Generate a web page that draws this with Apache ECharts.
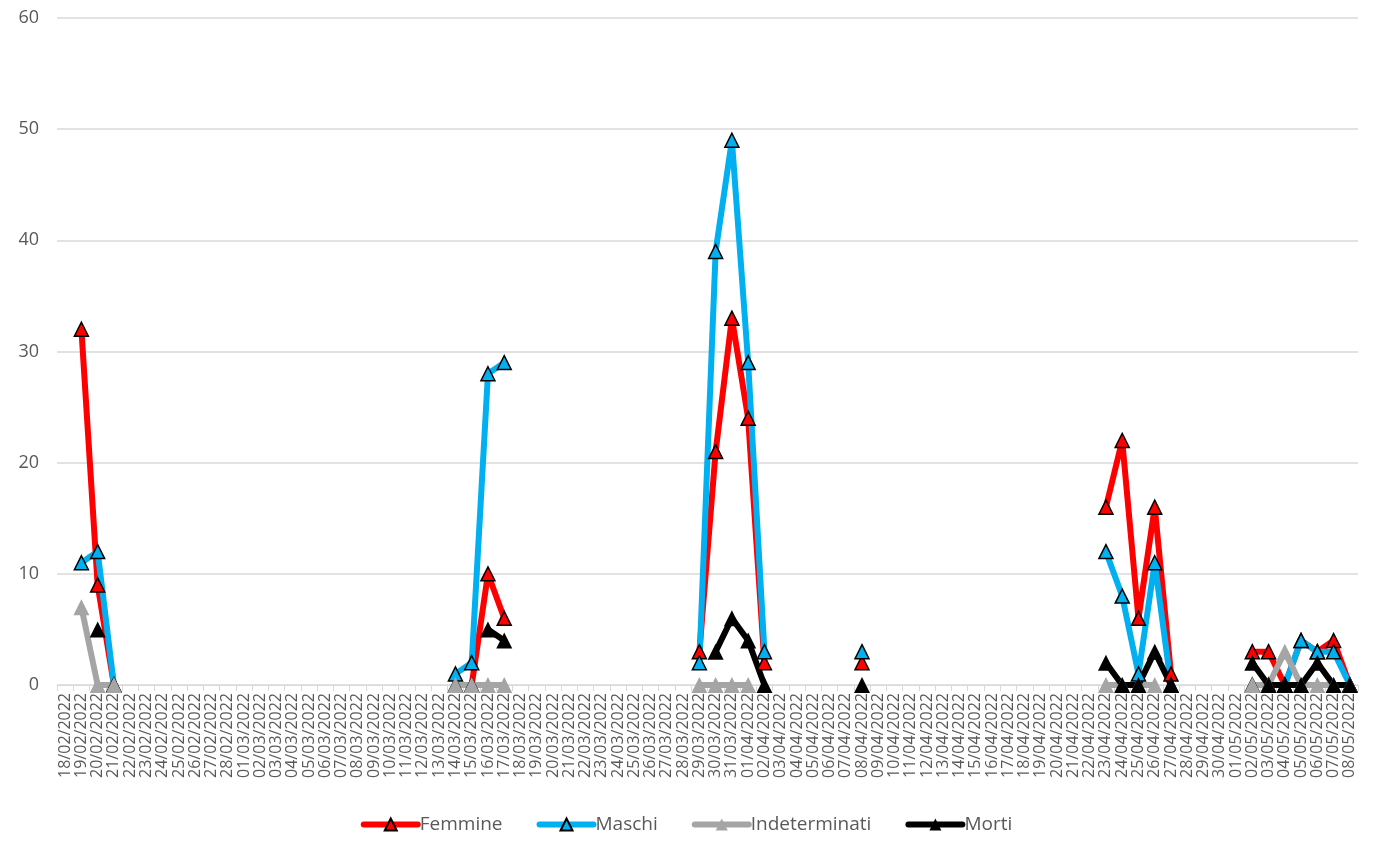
<!DOCTYPE html>
<html>
<head>
<meta charset="utf-8">
<script src="https://cdn.jsdelivr.net/npm/echarts@6/dist/echarts.min.js"></script>
<style>html,body{margin:0;padding:0;background:#fff;}#c{width:1373px;height:841px;}</style>
</head>
<body>
<div id="c"></div>
<script>
var categories = [
'18/02/2022','19/02/2022','20/02/2022','21/02/2022','22/02/2022','23/02/2022','24/02/2022','25/02/2022','26/02/2022','27/02/2022','28/02/2022',
'01/03/2022','02/03/2022','03/03/2022','04/03/2022','05/03/2022','06/03/2022','07/03/2022','08/03/2022','09/03/2022','10/03/2022',
'11/03/2022','12/03/2022','13/03/2022','14/03/2022','15/03/2022','16/03/2022','17/03/2022','18/03/2022','19/03/2022','20/03/2022',
'21/03/2022','22/03/2022','23/03/2022','24/03/2022','25/03/2022','26/03/2022','27/03/2022','28/03/2022','29/03/2022','30/03/2022','31/03/2022',
'01/04/2022','02/04/2022','03/04/2022','04/04/2022','05/04/2022','06/04/2022','07/04/2022','08/04/2022','09/04/2022','10/04/2022',
'11/04/2022','12/04/2022','13/04/2022','14/04/2022','15/04/2022','16/04/2022','17/04/2022','18/04/2022','19/04/2022','20/04/2022',
'21/04/2022','22/04/2022','23/04/2022','24/04/2022','25/04/2022','26/04/2022','27/04/2022','28/04/2022','29/04/2022','30/04/2022',
'01/05/2022','02/05/2022','03/05/2022','04/05/2022','05/05/2022','06/05/2022','07/05/2022','08/05/2022'
];
var yTicks = [0, 10, 20, 30, 40, 50, 60];

var femmine = [
['19/02/2022',32],['20/02/2022',9],['21/02/2022',0],
['14/03/2022',0],['15/03/2022',0],['16/03/2022',10],['17/03/2022',6],
['29/03/2022',3],['30/03/2022',21],['31/03/2022',33],['01/04/2022',24],['02/04/2022',2],
['08/04/2022',2],
['23/04/2022',16],['24/04/2022',22],['25/04/2022',6],['26/04/2022',16],['27/04/2022',1],
['02/05/2022',3],['03/05/2022',3],['04/05/2022',0],['05/05/2022',4],['06/05/2022',3],['07/05/2022',4],['08/05/2022',0]
];
var maschi = [
['19/02/2022',11],['20/02/2022',12],['21/02/2022',0],
['14/03/2022',1],['15/03/2022',2],['16/03/2022',28],['17/03/2022',29],
['29/03/2022',2],['30/03/2022',39],['31/03/2022',49],['01/04/2022',29],['02/04/2022',3],
['08/04/2022',3],
['23/04/2022',12],['24/04/2022',8],['25/04/2022',1],['26/04/2022',11],['27/04/2022',0],
['02/05/2022',0],['03/05/2022',0],['04/05/2022',0],['05/05/2022',4],['06/05/2022',3],['07/05/2022',3],['08/05/2022',0]
];
var indeterminati = [
['19/02/2022',7],['20/02/2022',0],['21/02/2022',0],
['14/03/2022',0],['15/03/2022',0],['16/03/2022',0],['17/03/2022',0],
['29/03/2022',0],['30/03/2022',0],['31/03/2022',0],['01/04/2022',0],
['23/04/2022',0],['24/04/2022',0],['25/04/2022',0],['26/04/2022',0],
['02/05/2022',0],['03/05/2022',0],['04/05/2022',3],['05/05/2022',0],['06/05/2022',0],['07/05/2022',0],['08/05/2022',0]
];
var morti = [
['20/02/2022',5],
['16/03/2022',5],['17/03/2022',4],
['30/03/2022',3],['31/03/2022',6],['01/04/2022',4],['02/04/2022',0],
['08/04/2022',0],
['23/04/2022',2],['24/04/2022',0],['25/04/2022',0],['26/04/2022',3],['27/04/2022',0],
['02/05/2022',2],['03/05/2022',0],['04/05/2022',0],['05/05/2022',0],['06/05/2022',2],['07/05/2022',0],['08/05/2022',0]
];

function fill(pairs) {
  var m = {};
  pairs.forEach(function (p) { m[p[0]] = p[1]; });
  return categories.map(function (c) { return (c in m) ? m[c] : null; });
}

var FONT = '"Open Sans", "Liberation Sans", sans-serif';
var chart = echarts.init(document.getElementById('c'), null, {renderer: 'canvas'});

function mk(name, pairs, color, bordered, size) {
  return {
    name: name,
    type: 'line',
    data: fill(pairs),
    connectNulls: false,
    showAllSymbol: true,
    symbol: 'triangle',
    symbolSize: size,
    lineStyle: {color: color, width: 6, cap: 'round', join: 'round'},
    itemStyle: {color: color, borderColor: bordered ? '#000' : color, borderWidth: bordered ? 1.5 : 0},
    emphasis: {disabled: true},
    animation: false
  };
}

chart.setOption({
  backgroundColor: '#ffffff',
  animation: false,
  grid: {left: 57, right: 15, top: 18, bottom: 156, containLabel: false},
  legend: {
    bottom: 2,
    left: 'center',
    itemWidth: 54,
    itemHeight: 15,
    itemGap: 34,
    lineStyle: {width: 6, cap: 'round'},
    textStyle: {fontFamily: FONT, fontSize: 19, color: '#595959', padding: [0, 0, 0, -3]},
    data: ['Femmine', 'Maschi', 'Indeterminati', 'Morti']
  },
  xAxis: {
    type: 'category',
    data: categories,
    boundaryGap: true,
    axisLine: {lineStyle: {color: '#d9d9d9', width: 1}},
    axisTick: {show: true, alignWithLabel: false, interval: 0, length: 6, lineStyle: {color: '#d9d9d9'}},
    axisLabel: {interval: 0, rotate: 90, fontFamily: FONT, fontSize: 16, color: '#595959', margin: 8},
    splitLine: {show: false}
  },
  yAxis: {
    type: 'value',
    min: yTicks[0],
    max: yTicks[yTicks.length - 1],
    interval: 10,
    axisLine: {show: false},
    axisTick: {show: false},
    axisLabel: {fontFamily: FONT, fontSize: 18, color: '#595959', margin: 18},
    splitLine: {lineStyle: {color: '#d9d9d9', width: 1.5}}
  },
  series: [
    mk('Femmine', femmine, '#ff0000', true, 14),
    mk('Maschi', maschi, '#00b0f0', true, 14),
    mk('Indeterminati', indeterminati, '#a5a5a5', false, 16),
    mk('Morti', morti, '#000000', false, 16)
  ]
});
</script>
</body>
</html>
